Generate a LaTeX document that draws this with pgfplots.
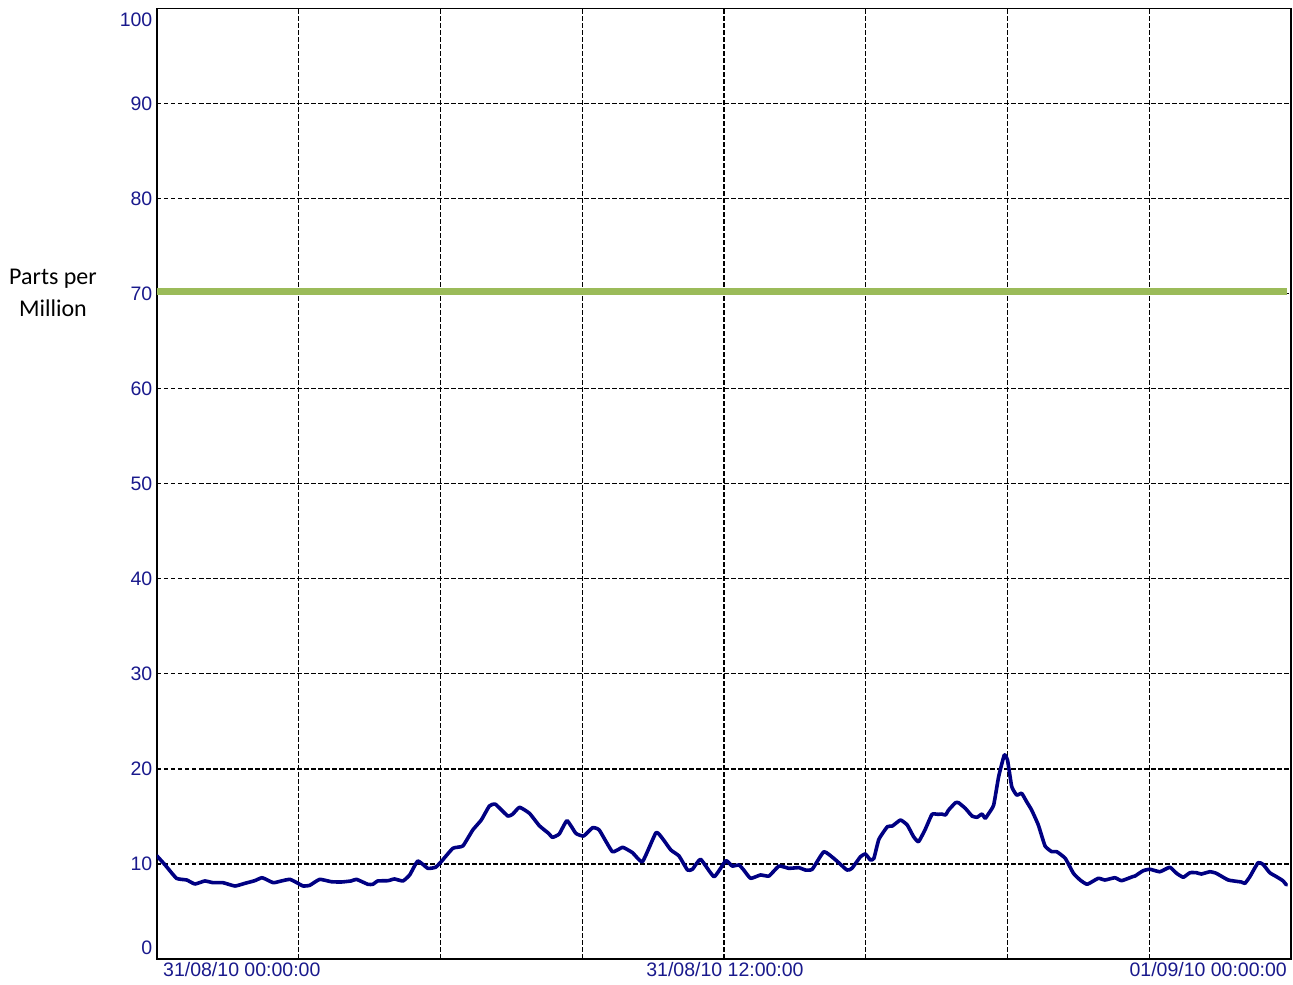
\documentclass[border=0pt]{standalone}
\usepackage{fontspec}
\setmainfont{Liberation Sans}
\newfontfamily\calibri{Carlito}
\usepackage{pgfplots}
\pgfplotsset{compat=1.18}
\definecolor{ticktext}{RGB}{25,25,140}
\definecolor{limitgreen}{RGB}{155,187,89}
\definecolor{seriesnavy}{RGB}{0,0,130}
\begin{document}
\begin{tikzpicture}
\begin{axis}[
  scale only axis,
  width=1134pt, height=950.5pt,
  xmin=-4, xmax=28, ymin=0, ymax=100,
  xtick={0,4,...,24}, xticklabels={},
  ytick={0,10,...,100},
  yticklabels={{},10,20,30,40,50,60,70,80,90,{}},
  major tick length=0pt,
  /pgf/number format/assume math mode=true,
  yticklabel style={font=\fontsize{19.5}{23}\selectfont, text=ticktext, inner sep=0pt, xshift=-4.5pt},
  grid=major,
  major grid style={black, line width=1.3pt, dash pattern=on 4.5pt off 2.5pt},
  axis line style={black, line width=1.5pt},
  clip=true,
]
\addplot[limitgreen, line width=7pt] coordinates {(-4,70.2) (27.9,70.2)};
\addplot[seriesnavy, line width=3.6pt, line join=round, line cap=round, smooth, tension=0.25] table {
x y
-4.00 10.84
-3.77 9.89
-3.45 8.49
-3.16 8.31
-2.93 7.89
-2.65 8.21
-2.42 8.03
-2.14 8.03
-1.80 7.68
-1.52 7.96
-1.24 8.24
-1.03 8.55
-0.72 8.03
-0.49 8.21
-0.25 8.38
-0.02 7.96
0.12 7.68
0.31 7.75
0.59 8.38
0.92 8.13
1.20 8.10
1.48 8.21
1.63 8.38
1.95 7.86
2.09 7.86
2.23 8.21
2.52 8.24
2.70 8.42
2.94 8.21
3.13 8.84
3.36 10.31
3.64 9.54
3.86 9.65
4.02 10.24
4.35 11.65
4.63 11.89
4.91 13.57
5.15 14.62
5.38 16.10
5.55 16.28
5.90 15.04
6.04 15.25
6.23 15.96
6.51 15.33
6.79 14.02
7.05 13.22
7.16 12.80
7.35 13.15
7.57 14.55
7.82 13.22
8.04 12.94
8.29 13.81
8.48 13.57
8.85 11.29
9.14 11.75
9.42 11.18
9.70 10.24
10.08 13.29
10.26 12.70
10.50 11.47
10.73 10.84
10.97 9.36
11.11 9.44
11.34 10.49
11.72 8.66
12.05 10.34
12.23 9.78
12.42 9.89
12.54 9.44
12.75 8.49
13.03 8.84
13.27 8.73
13.55 9.78
13.83 9.54
14.11 9.61
14.30 9.36
14.49 9.44
14.82 11.29
15.15 10.42
15.47 9.36
15.61 9.54
15.85 10.76
15.99 11.05
16.13 10.42
16.23 10.59
16.37 12.59
16.61 13.92
16.75 13.99
16.98 14.62
17.17 14.10
17.35 12.87
17.49 12.34
17.68 13.65
17.87 15.22
18.04 15.22
18.15 15.25
18.25 15.15
18.34 15.68
18.53 16.44
18.62 16.44
18.81 15.85
19.00 15.04
19.14 14.91
19.28 15.25
19.37 14.80
19.46 15.25
19.61 16.20
19.75 19.18
19.91 21.46
20.00 20.94
20.12 18.13
20.26 17.25
20.40 17.43
20.54 16.55
20.68 15.68
20.87 14.10
21.06 11.89
21.25 11.29
21.39 11.29
21.63 10.59
21.86 9.02
22.05 8.31
22.25 7.86
22.56 8.49
22.75 8.31
23.03 8.55
23.22 8.24
23.53 8.66
23.60 8.73
23.83 9.29
24.02 9.44
24.30 9.18
24.58 9.65
24.77 9.02
24.96 8.60
25.15 9.08
25.33 9.08
25.47 8.94
25.71 9.18
25.89 9.02
26.23 8.31
26.60 8.10
26.70 7.96
26.84 8.66
27.07 10.13
27.21 9.96
27.40 9.08
27.59 8.66
27.77 8.24
27.87 7.79
};
\end{axis}
% tick labels placed as in the reference
\begin{scope}[every node/.style={inner sep=0pt, text=ticktext, font=\fontsize{19.5}{23}\selectfont}]
\node[anchor=east] at (-4.5pt, 11pt) {0};
\node[anchor=east] at (-4.5pt, 939pt) {100};
\node[anchor=base west] at (6pt, -18pt) {31/08/10 00:00:00};
\node[anchor=base] at (568pt, -18pt) {31/08/10 12:00:00};
\node[anchor=base east] at (1130pt, -18pt) {01/09/10 00:00:00};
\end{scope}
\node[align=center, inner sep=0pt, font=\calibri\fontsize{24}{32}\selectfont, anchor=center] at (-104pt, 666pt) {Parts per\\Million};
\useasboundingbox (-157pt,-26pt) rectangle (1136pt,959pt);
\end{tikzpicture}
\end{document}
